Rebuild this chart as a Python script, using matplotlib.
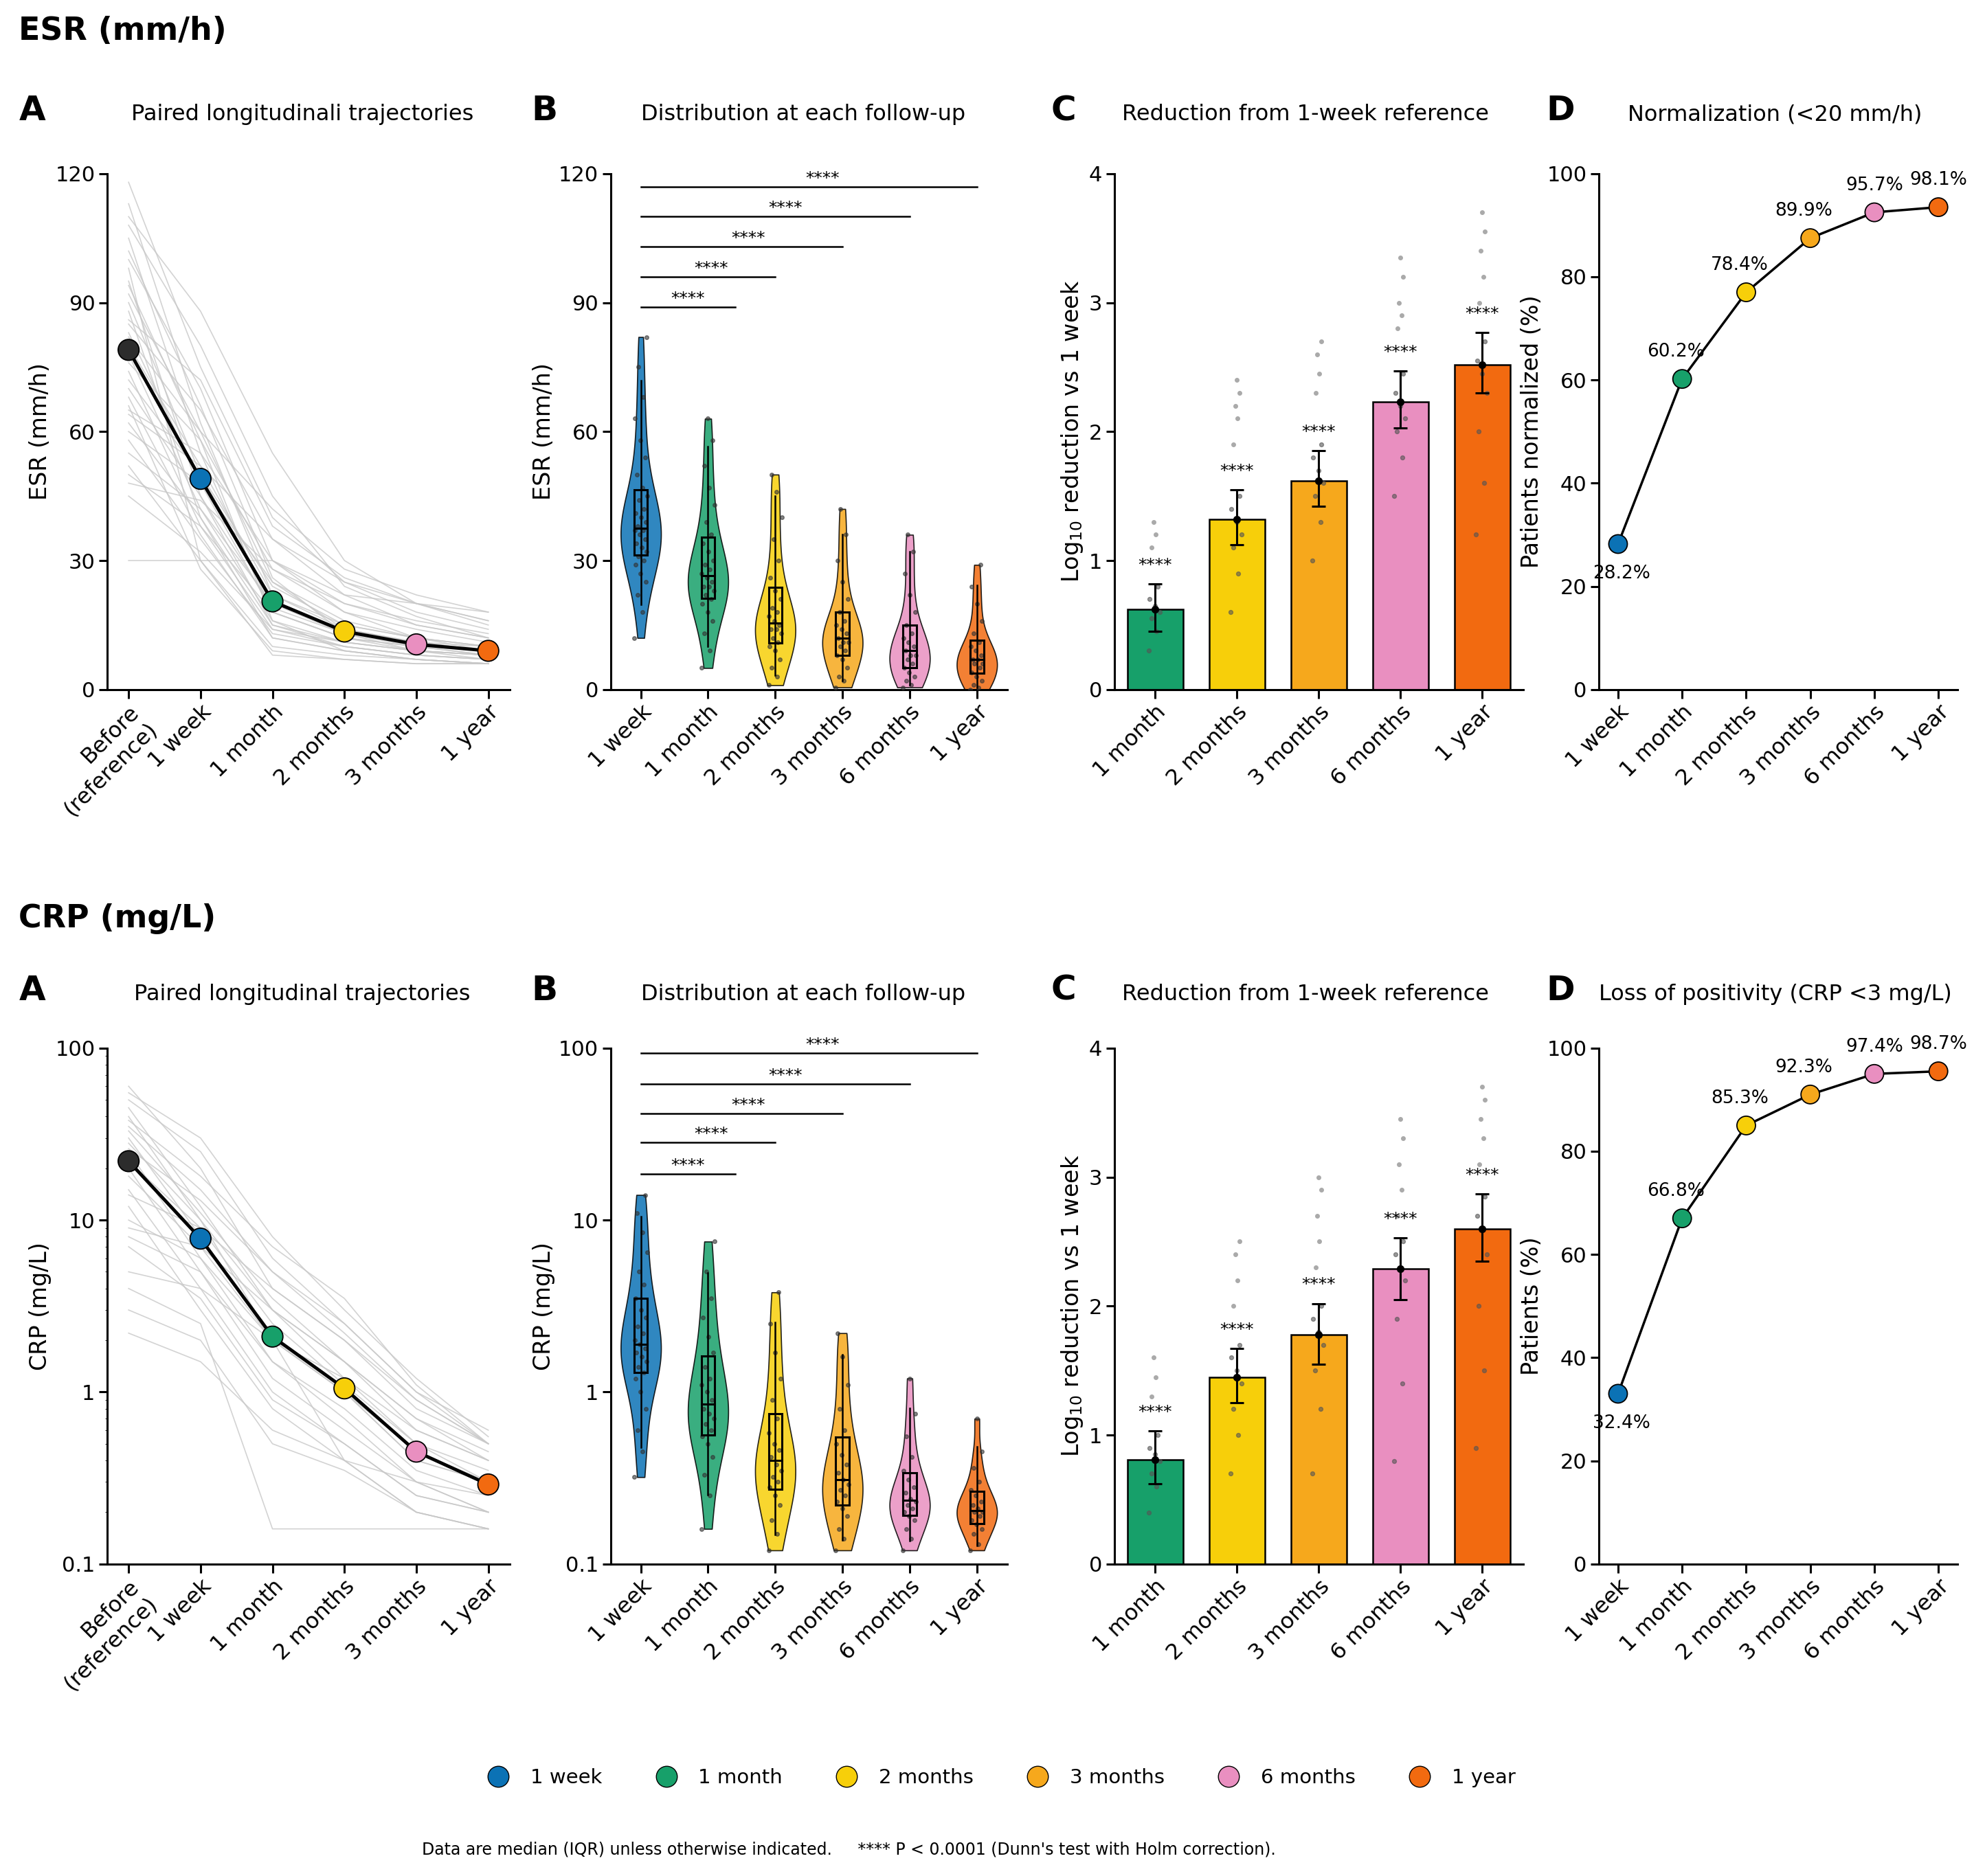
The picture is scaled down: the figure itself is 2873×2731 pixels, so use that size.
import numpy as np
import matplotlib
matplotlib.use("Agg")
import matplotlib.pyplot as plt
from matplotlib.lines import Line2D

plt.rcParams['font.family'] = ['DejaVu Sans']

groups6 = ["1 week", "1 month", "2 months", "3 months", "6 months", "1 year"]
groupsA = ["Before\n(reference)", "1 week", "1 month", "2 months", "3 months", "1 year"]
groups5 = groups6[1:]
colors6 = ["#0b72b5", "#17a06a", "#f7cf0a", "#f6a81c", "#e98fc0", "#f26a10"]
colorsA = ["#2c2c2c", "#0b72b5", "#17a06a", "#f7cf0a", "#e98fc0", "#f26a10"]

# Panel A medians
esr_median = [79, 49, 20.5, 13.5, 10.5, 9]
crp_median = [22, 7.8, 2.1, 1.05, 0.45, 0.29]
esr_traj = [[113,62,22,15,12,10],[105,55,18,12,9,8],[100,70,30,18,12,9],[95,45,15,10,8,7],
            [92,60,25,14,11,9],[90,50,20,13,10,8],[88,40,12,9,7,6],[85,65,35,22,15,12],
            [83,48,18,12,10,9],[80,52,22,14,11,10],[78,42,16,11,9,8],[76,58,28,18,14,11],
            [74,38,14,10,8,7],[72,50,24,15,12,10],[70,45,19,13,11,9],[68,36,12,9,7,6],
            [65,55,30,20,15,12],[62,40,15,11,9,8],[60,48,25,16,12,10],[58,35,13,10,8,7],
            [55,42,20,14,11,9],[52,30,10,8,7,6],[50,38,18,12,10,8],[48,44,28,20,16,13],
            [45,32,14,11,9,8],[30,30,30,22,20,18],[118,75,40,25,18,14],[98,30,8,7,6,6],
            [108,80,45,24,17,12],[86,72,38,26,20,16],[66,28,9,7,6,6],[94,58,16,9,7,6],
            [110,88,55,30,20,15],[102,66,26,13,9,7],[82,60,42,28,22,18],[64,52,35,25,20,16]]
crp_traj = [[60,20,4,2,0.8,0.5],[45,12,3,1.5,0.6,0.4],[35,15,5,2.5,1,0.5],[30,8,2,1,0.4,0.3],
            [28,10,3,1.2,0.5,0.35],[25,6,1.5,0.8,0.35,0.25],[22,9,2.5,1.1,0.5,0.3],
            [20,5,1.2,0.6,0.3,0.2],[18,7,2,1,0.45,0.3],[15,4,1,0.5,0.25,0.2],[14,9,4,2,0.9,0.5],
            [12,3,0.8,0.4,0.2,0.16],[10,6,2,1,0.4,0.3],[8,5,1.5,0.7,0.3,0.25],[7,3.5,0.9,0.5,0.25,0.2],
            [5,4,2,1.2,0.6,0.4],[4,2.5,0.16,0.16,0.16,0.16],[3,2,0.5,0.35,0.2,0.16],
            [2.2,1.5,0.6,0.4,0.3,0.2],[50,25,6,2.5,1,0.6],[40,10,2,0.4,0.2,0.16],[33,11,3.5,1.5,0.7,0.45],
            [55,30,8,3,1.2,0.55],[26,13,5,2.2,0.9,0.5],[9,7,3,1.5,0.7,0.4],[38,18,7,3.5,1.1,0.5]]

# Panel B distributions
esr_dist = [
    [12,18,22,25,27,29,30,31,32,33,34,35,36,37,37,38,39,40,41,42,44,45,47,50,54,58,63,68,75,82],
    [5,9,13,16,18,20,21,22,23,24,24,25,26,27,28,29,30,32,34,36,39,43,47,52,58,63],
    [1,3,5,7,9,10,11,12,13,14,14,15,16,17,18,19,21,23,26,30,35,40,46,50],
    [0.5,2,3,5,7,8,9,10,11,11,12,13,14,15,16,18,21,25,30,36,42],
    [0.5,1,2,3,4,5,6,7,8,8,9,10,11,12,13,15,18,22,27,32,36],
    [0,0.5,1,2,3,4,5,6,6,7,7,8,9,10,11,13,16,20,24,29],
]
crp_dist = [
    [0.32,0.45,0.6,0.8,1.0,1.2,1.3,1.4,1.5,1.6,1.7,1.8,1.9,2.0,2.2,2.4,2.7,3.0,3.5,4.2,5,6.5,8.5,11,14],
    [0.16,0.25,0.33,0.42,0.5,0.55,0.6,0.65,0.7,0.75,0.8,0.9,1.0,1.1,1.2,1.4,1.7,2.1,2.7,3.5,5,7.5],
    [0.12,0.15,0.18,0.22,0.25,0.28,0.3,0.32,0.35,0.38,0.42,0.46,0.5,0.58,0.7,0.9,1.2,1.7,2.5,3.8],
    [0.12,0.14,0.16,0.19,0.21,0.23,0.25,0.27,0.29,0.31,0.34,0.38,0.43,0.5,0.6,0.8,1.1,1.6,2.2],
    [0.12,0.14,0.16,0.18,0.19,0.2,0.21,0.22,0.23,0.24,0.26,0.28,0.31,0.35,0.42,0.55,0.75,1.2],
    [0.12,0.13,0.15,0.16,0.17,0.18,0.19,0.2,0.2,0.21,0.22,0.23,0.25,0.27,0.3,0.36,0.45,0.7],
]

# Panel C
esr_red = [0.62, 1.32, 1.62, 2.23, 2.52]
esr_red_lo = [0.45, 1.12, 1.42, 2.03, 2.30]
esr_red_hi = [0.82, 1.55, 1.85, 2.47, 2.77]
esr_red_out = [[1.1,1.2,1.3], [1.9,2.1,2.2,2.3,2.4], [2.3,2.45,2.6,2.7], [2.8,2.9,3.0,3.2,3.35], [3.0,3.2,3.4,3.55,3.7]]
esr_red_pts = [[0.3,0.45,0.55,0.6,0.65,0.7,0.8], [0.6,0.9,1.1,1.2,1.3,1.4,1.5], [1.0,1.3,1.5,1.6,1.7,1.8,1.9],
               [1.5,1.8,2.0,2.1,2.2,2.3,2.45], [1.2,1.6,2.0,2.3,2.45,2.55,2.7]]
crp_red = [0.81, 1.45, 1.78, 2.29, 2.60]
crp_red_lo = [0.62, 1.25, 1.55, 2.05, 2.35]
crp_red_hi = [1.03, 1.67, 2.02, 2.53, 2.87]
crp_red_out = [[1.3,1.45,1.6], [2.0,2.2,2.4,2.5], [2.3,2.5,2.7,2.9,3.0], [2.7,2.9,3.1,3.3,3.45], [3.1,3.3,3.45,3.6,3.7]]
crp_red_pts = [[0.4,0.6,0.7,0.8,0.85,0.9,1.0], [0.7,1.0,1.2,1.4,1.5,1.6,1.7], [0.7,1.2,1.5,1.7,1.8,1.9,2.0],
               [0.8,1.4,1.9,2.2,2.3,2.4,2.5], [0.9,1.5,2.0,2.4,2.6,2.7,2.85]]

# Panel D
esr_norm = [28.2, 60.2, 77.0, 87.5, 92.5, 93.5]
esr_norm_lab = ["28.2%", "60.2%", "78.4%", "89.9%", "95.7%", "98.1%"]
crp_norm = [33.0, 67.0, 85.0, 91.0, 95.0, 95.5]
crp_norm_lab = ["32.4%", "66.8%", "85.3%", "92.3%", "97.4%", "98.7%"]

fig = plt.figure(figsize=(28.73, 27.31), dpi=100)
W, H = 1568.0, 1491.0

def mkax(x0, x1, ytop, ybot):
    return fig.add_axes([x0/W, 1-ybot/H, (x1-x0)/W, (ybot-ytop)/H])

def style(ax):
    for s in ["top", "right"]:
        ax.spines[s].set_visible(False)
    for s in ["left", "bottom"]:
        ax.spines[s].set_linewidth(2.2)
    ax.tick_params(labelsize=22, width=2.2, length=9)

def xt(ax, labels):
    ax.set_xticks(range(len(labels)))
    ax.set_xticklabels(labels, rotation=45, ha="right", rotation_mode="anchor", fontsize=23)

def jit(n, w=0.12):
    return np.array([((i * 0.618) % 1 - 0.5) * 2 * w for i in range(n)])

rows = [(138, 548, 25, 88, "ESR (mm/h)"), (833, 1243, 730, 787, "CRP (mg/L)")]

for r, (yt, yb, yhead, ylet, head) in enumerate(rows):
    is_crp = r == 1
    fig.text(15/W, 1-yhead/H, head, fontsize=33, fontweight="bold", va="center")
    axs = [mkax(85, 405, yt, yb), mkax(485, 800, yt, yb), mkax(885, 1210, yt, yb), mkax(1270, 1555, yt, yb)]
    titles = (["Paired longitudinal trajectories", "Distribution at each follow-up",
               "Reduction from 1-week reference", "Loss of positivity (CRP <3 mg/L)"] if is_crp else
              ["Paired longitudinali trajectories", "Distribution at each follow-up",
               "Reduction from 1-week reference", "Normalization (<20 mm/h)"])
    lx = [15, 422, 835, 1228]
    tx = [240, 638, 1037, 1410]
    for i in range(4):
        fig.text(lx[i]/W, 1-ylet/H, "ABCD"[i], fontsize=36, fontweight="bold", va="center")
        fig.text(tx[i]/W, 1-(ylet+3)/H, titles[i], fontsize=23, va="center", ha="center")
    for ax in axs:
        style(ax)

    # A
    ax = axs[0]
    traj = crp_traj if is_crp else esr_traj
    med = crp_median if is_crp else esr_median
    for t in traj:
        ax.plot(range(6), t, color="#c8c8c8", lw=1.2, alpha=0.8, zorder=1)
    ax.plot(range(6), med, color="black", lw=3.5, zorder=2)
    ax.scatter(range(6), med, s=480, c=colorsA, edgecolors="black", linewidths=1.3, zorder=3)
    xt(ax, groupsA)
    ax.set_xlim(-0.3, 5.3)
    if is_crp:
        ax.set_yscale("log")
        ax.set_ylim(0.1, 100)
        ax.set_yticks([0.1, 1, 10, 100]); ax.set_yticklabels(["0.1", "1", "10", "100"])
        ax.set_ylabel("CRP (mg/L)", fontsize=24)
    else:
        ax.set_ylim(0, 120); ax.set_yticks([0, 30, 60, 90, 120])
        ax.set_ylabel("ESR (mm/h)", fontsize=24)

    # B
    ax = axs[1]
    dist = crp_dist if is_crp else esr_dist
    data = [np.log10(d) if is_crp else np.array(d, float) for d in dist]
    vp = ax.violinplot(data, positions=range(6), widths=0.6, showextrema=False, bw_method=0.45)
    for b, c in zip(vp["bodies"], colors6):
        b.set_facecolor(c); b.set_edgecolor("black"); b.set_alpha(0.85); b.set_linewidth(1.2)
    for i, d in enumerate(data):
        ax.scatter(i + jit(len(d), 0.1), d, s=16, color="#333333", alpha=0.6, zorder=3)
        q1, q2, q3 = np.percentile(d, [25, 50, 75])
        lo, hi = np.percentile(d, [5, 95])
        ax.plot([i, i], [lo, hi], color="black", lw=1.8, zorder=4)
        ax.add_patch(plt.Rectangle((i-0.1, q1), 0.2, q3-q1, fill=False, ec="black", lw=2.2, zorder=5))
        ax.plot([i-0.1, i+0.1], [q2, q2], color="black", lw=2.2, zorder=5)
    if is_crp:
        ax.set_ylim(-1, 2); ax.set_yticks([-1, 0, 1, 2]); ax.set_yticklabels(["0.1", "1", "10", "100"])
        ax.set_ylabel("CRP (mg/L)", fontsize=24)
        brk = [1.27, 1.45, 1.62, 1.79, 1.97]
    else:
        ax.set_ylim(0, 120); ax.set_yticks([0, 30, 60, 90, 120])
        ax.set_ylabel("ESR (mm/h)", fontsize=24)
        brk = [89, 96, 103, 110, 117]
    for j, yv in enumerate(brk):
        xe = j + 1.4 if j == 0 else j + 1
        ax.plot([0, xe], [yv, yv], color="black", lw=1.8)
        ax.text(xe / 2 + 0.05 * j, yv, "****", ha="center", va="bottom", fontsize=18)
    xt(ax, groups6)
    ax.set_xlim(-0.45, 5.45)

    # C
    ax = axs[2]
    red = crp_red if is_crp else esr_red
    lo = crp_red_lo if is_crp else esr_red_lo
    hi = crp_red_hi if is_crp else esr_red_hi
    out = crp_red_out if is_crp else esr_red_out
    pts = crp_red_pts if is_crp else esr_red_pts
    x5 = np.arange(5)
    ax.bar(x5, red, width=0.68, color=colors6[1:], edgecolor="black", linewidth=1.8, zorder=1)
    for i in range(5):
        ax.scatter(i + jit(len(out[i]), 0.04), out[i], s=16, color="#aaaaaa", zorder=2)
        ax.scatter(i + jit(len(pts[i]), 0.08), pts[i], s=18, color="#555555", alpha=0.6, zorder=2)
        ax.errorbar(i, red[i], yerr=[[red[i]-lo[i]], [hi[i]-red[i]]], color="black", lw=2.2, capsize=7, capthick=2.2, zorder=3)
        ax.scatter([i], [red[i]], s=50, color="black", zorder=4)
        ax.text(i, hi[i] + 0.08, "****", ha="center", va="bottom", fontsize=18)
    ax.set_ylim(0, 4); ax.set_yticks([0, 1, 2, 3, 4])
    ax.set_xlim(-0.5, 4.5)
    ax.set_ylabel("Log$_{10}$ reduction vs 1 week", fontsize=24)
    xt(ax, groups5)

    # D
    ax = axs[3]
    nv = crp_norm if is_crp else esr_norm
    nl = crp_norm_lab if is_crp else esr_norm_lab
    ax.plot(range(6), nv, color="black", lw=2.5, zorder=1)
    ax.scatter(range(6), nv, s=380, c=colors6, edgecolors="black", linewidths=1.3, zorder=2)
    for i, (v, l) in enumerate(zip(nv, nl)):
        if i == 0:
            ax.text(i + 0.05, v - 4, l, ha="center", va="top", fontsize=19)
        else:
            ax.text(i - (0.1 if i < 4 else 0), v + 3.5, l, ha="center", va="bottom", fontsize=19)
    ax.set_ylim(0, 100); ax.set_yticks([0, 20, 40, 60, 80, 100])
    ax.set_xlim(-0.3, 5.3)
    ax.set_ylabel("Patients (%)" if is_crp else "Patients normalized (%)", fontsize=24)
    xt(ax, groups6)

handles = [Line2D([0], [0], marker="o", ls="", markersize=22, markerfacecolor=c, markeredgecolor="black") for c in colors6]
fig.legend(handles, groups6, loc="center", bbox_to_anchor=(0.505, 1-1413/H), ncol=6, frameon=False,
           fontsize=21, columnspacing=2.2, handletextpad=0.6)
fig.text(0.43, 1-1470/H, "Data are median (IQR) unless otherwise indicated.     **** P < 0.0001 (Dunn's test with Holm correction).",
         ha="center", va="center", fontsize=17)

fig.savefig("out.png", dpi=100)
